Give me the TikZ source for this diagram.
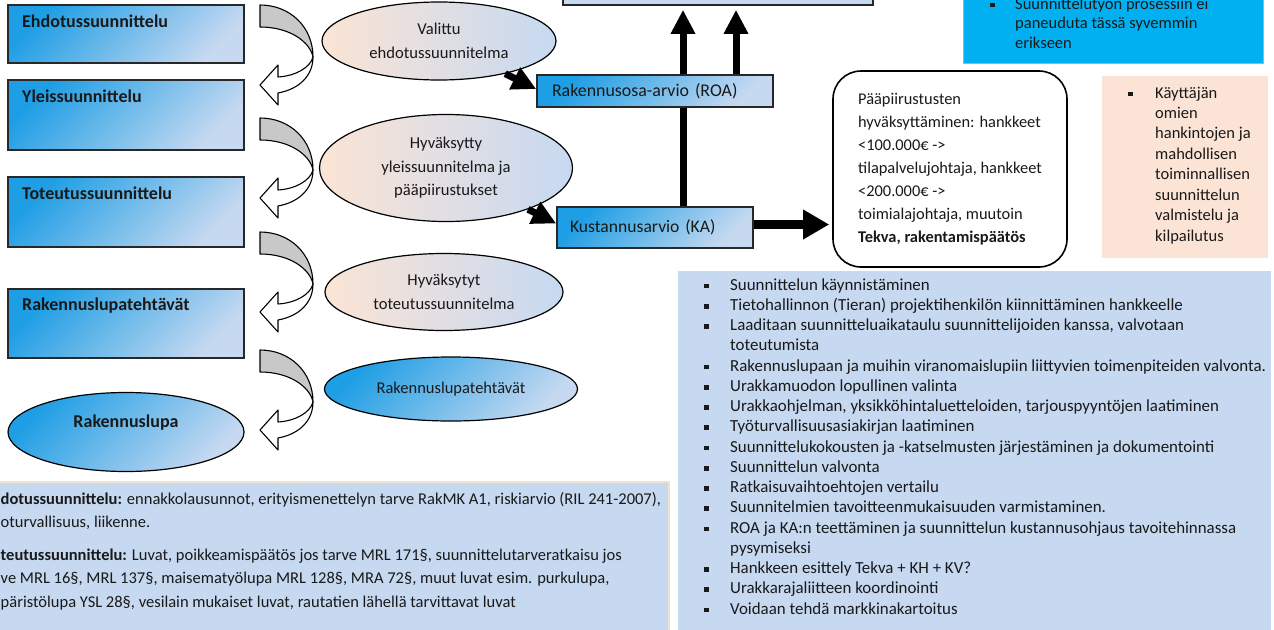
\documentclass[tikz,border=0pt]{standalone}
\usepackage{fontspec}
\setmainfont{Carlito}
\usetikzlibrary{arrows.meta,shapes.geometric}
\definecolor{cyanbox}{RGB}{0,176,240}
\definecolor{peachbox}{RGB}{251,228,213}
\definecolor{lblue}{RGB}{198,217,241}
\definecolor{dblue}{RGB}{30,158,228}
\definecolor{bandgray}{RGB}{200,200,200}
\definecolor{edgec}{RGB}{40,40,40}
\definecolor{tanline}{RGB}{240,226,208}
\definecolor{txtc}{RGB}{25,25,25}
\newcommand\fl{\rule{0pt}{12pt}}
\newcommand\bul[1]{\makebox[#1][l]{\rule[1.6pt]{4.8pt}{4.8pt}}}
\newcommand\ind[1]{\hspace*{#1}}
\begin{document}
\begin{tikzpicture}[x=1pt,y=-1pt,
  txt/.style={font=\fontsize{16.5}{20.25}\selectfont, inner sep=0pt, text=txtc, align=left},
  boldtxt/.style={font=\fontsize{18}{22}\selectfont\bfseries, inner sep=0pt, text=txtc},
  gradbox/.style={draw=edgec, line width=1.6pt, top color=dblue, bottom color=lblue, shading angle=45, inner sep=0pt},
  peachell/.style={ellipse, draw=black, line width=1.2pt, left color=peachbox, right color=lblue, inner sep=0pt, align=center, text=txtc, font=\fontsize{16.6}{23.5}\selectfont},
  blueell/.style={ellipse, draw=black, line width=1.2pt, top color=dblue, bottom color=lblue, shading angle=45, inner sep=0pt, align=center, text=txtc},
  bigarrow/.style={line width=7pt, -{Triangle[width=23pt,length=24pt]}},
  widearrow/.style={line width=9pt, -{Triangle[width=28pt,length=26pt]}},
  curvarr/.pic={
    \filldraw[fill=bandgray, line width=1.1pt, line join=round] (0,0) .. controls (30,0) and (53,22) .. (53,52) .. controls (50,37) and (30,22) .. (0,22) -- cycle;
    \filldraw[fill=white, line width=1.1pt, line join=round] (53,52) .. controls (53,70) and (40,84) .. (18,88) -- (18,100) -- (0,80) -- (18,60) -- (18,72) .. controls (35,71) and (50,63) .. (53,52) -- cycle;
  }
]
\useasboundingbox (0,0) rectangle (1274,629);

% background panels
\node[fill=lblue, draw=tanline, line width=1.2pt, minimum width=679pt, minimum height=156pt, inner sep=0pt] (notes) at (329.5,560) {};
\node[txt, font=\fontsize{16.5}{23.5}\selectfont, anchor=north west] (notesT) at (0.5,491.8) {\fl\textbf{dotussuunnittelu:} ennakkolausunnot, erityismenettelyn tarve RakMK A1, riskiarvio (RIL 241-2007),\\
oturvallisuus, liikenne.\\[9pt]
\textbf{teutussuunnittelu:} Luvat, poikkeamispäätös jos tarve MRL 171§, suunnittelutarveratkaisu jos\\
ve MRL 16§, MRL 137§, maisematyölupa MRL 128§, MRA 72§, muut luvat esim. purkulupa,\\
päristölupa YSL 28§, vesilain mukaiset luvat, rautatien lähellä tarvittavat luvat};

\node[fill=lblue, minimum width=593pt, minimum height=370pt, inner sep=0pt] (tasks) at (974.5,456) {};
\node[txt, font=\fontsize{16.9}{20.25}\selectfont, anchor=north west] (tasksT) at (704,277.8) {\fl\bul{26pt}Suunnittelun käynnistäminen\\
\bul{26pt}Tietohallinnon (Tieran) projektihenkilön kiinnittäminen hankkeelle\\
\bul{26pt}Laaditaan suunnitteluaikataulu suunnittelijoiden kanssa, valvotaan\\
\ind{26pt}toteutumista\\
\bul{26pt}Rakennuslupaan ja muihin viranomaislupiin liittyvien toimenpiteiden valvonta.\\
\bul{26pt}Urakkamuodon lopullinen valinta\\
\bul{26pt}Urakkaohjelman, yksikköhintaluetteloiden, tarjouspyyntöjen laatiminen\\
\bul{26pt}Työturvallisuusasiakirjan laatiminen\\
\bul{26pt}Suunnittelukokousten ja -katselmusten järjestäminen ja dokumentointi\\
\bul{26pt}Suunnittelun valvonta\\
\bul{26pt}Ratkaisuvaihtoehtojen vertailu\\
\bul{26pt}Suunnitelmien tavoitteenmukaisuuden varmistaminen.\\
\bul{26pt}ROA ja KA:n teettäminen ja suunnittelun kustannusohjaus tavoitehinnassa\\
\ind{26pt}pysymiseksi\\
\bul{26pt}Hankkeen esittely Tekva + KH + KV?\\
\bul{26pt}Urakkarajaliitteen koordinointi\\
\bul{26pt}Voidaan tehdä markkinakartoitus};

\node[fill=cyanbox, draw={rgb,255:red,110;green,195;blue,238}, line width=1pt, minimum width=300pt, minimum height=83pt, inner sep=0pt] (note1) at (1113,21.5) {};
\node[txt, font=\fontsize{16.5}{19.5}\selectfont, anchor=north west] (note1T) at (990,-3.2) {\fl\bul{25pt}Suunnittelutyön prosessiin ei\\
\ind{25pt}paneuduta tässä syvemmin\\
\ind{25pt}erikseen};

\node[fill=peachbox, minimum width=166pt, minimum height=182pt, inner sep=0pt] (note2) at (1185,167) {};
\node[txt, font=\fontsize{16.5}{20.43}\selectfont, anchor=north west] (note2T) at (1128,85.8) {\fl\bul{27pt}Käyttäjän\\
\ind{27pt}omien\\
\ind{27pt}hankintojen ja\\
\ind{27pt}mahdollisen\\
\ind{27pt}toiminnallisen\\
\ind{27pt}suunnittelun\\
\ind{27pt}valmistelu ja\\
\ind{27pt}kilpailutus};

% left column
\node[gradbox, minimum width=236pt, minimum height=58pt] (ehd) at (126,34) {};
\node[boldtxt, anchor=base west] (ehdT) at (22,27.6) {Ehdotussuunnittelu};
\node[gradbox, minimum width=236pt, minimum height=70pt] (yle) at (126,115) {};
\node[boldtxt, anchor=base west] (yleT) at (22,102.6) {Yleissuunnittelu};
\node[gradbox, minimum width=236pt, minimum height=70pt] (tot) at (126,212) {};
\node[boldtxt, anchor=base west] (totT) at (22,199.6) {Toteutussuunnittelu};
\node[gradbox, minimum width=236pt, minimum height=69pt] (rlt) at (126,323.5) {};
\node[boldtxt, anchor=base west] (rltT) at (22,310.6) {Rakennuslupatehtävät};
\node[blueell, minimum width=236pt, minimum height=79pt] (rlupa) at (126,432) {};
\node[boldtxt] (rlupaT) at (126,423) {Rakennuslupa};

% curved arrows
\pic at (260,5) {curvarr};
\pic at (260,118) {curvarr};
\pic at (260,232) {curvarr};
\pic at (260,350) {curvarr};

% ellipses
\node[peachell, minimum width=234pt, minimum height=78pt] (valittu) at (439,41) {Valittu\\ehdotussuunnitelma};
\node[peachell, minimum width=253pt, minimum height=107pt] (hyv) at (446,168) {Hyväksytty\\yleissuunnitelma ja\\pääpiirustukset};
\node[peachell, minimum width=238pt, minimum height=77pt] (hyvt) at (444,292) {Hyväksytyt\\toteutussuunnitelma};
\node[blueell, minimum width=253pt, minimum height=64pt, font=\fontsize{16.5}{20}\selectfont] (rltell) at (451,389) {Rakennuslupatehtävät};

% centre column
\node[draw=edgec, line width=1.6pt, fill=lblue, minimum width=310pt, minimum height=35pt, inner sep=0pt] (topbox) at (718,-12.5) {};
\node[gradbox, minimum width=196pt, minimum height=41pt, inner xsep=13pt, text width=170pt, align=left, font=\fontsize{17.6}{20}\selectfont, text=txtc] (ka) at (655,227.5) {Kustannusarvio (KA)};
\coordinate (kaup) at ([xshift=28pt]ka.north);
\draw[bigarrow, shorten >=4pt] (kaup) -- (kaup |- topbox.south);
\node[gradbox, minimum width=236pt, minimum height=32pt, inner xsep=15pt, text width=206pt, align=left, font=\fontsize{17.9}{20}\selectfont, text=txtc] (roa) at (655,91) {Rakennusosa-arvio (ROA)};
\coordinate (roaup) at ([xshift=81pt]roa.north);
\draw[bigarrow, shorten >=4pt] (roaup) -- (roaup |- topbox.south);

\draw[bigarrow] (valittu) -- ([yshift=2pt]roa.west);
\draw[bigarrow] (hyv) -- ([yshift=4pt]ka.west);

% decision box
\node[draw=black, line width=1.6pt, rounded corners=28pt, fill=white, minimum width=234pt, minimum height=196pt, inner sep=0pt, align=left, text=txtc, font=\fontsize{16.4}{23}\selectfont] (paat) at (950,169) {Pääpiirustusten\\
hyväksyttäminen: hankkeet\\
<100.000€ ->\\
tilapalvelujohtaja, hankkeet\\
<200.000€ ->\\
toimialajohtaja, muutoin\\
\textbf{Tekva, rakentamispäätös}};
\coordinate (kaout) at ([yshift=3pt]ka.east);
\draw[widearrow, shorten >=3pt] (kaout) -- (kaout -| paat.west);
\end{tikzpicture}
\end{document}
